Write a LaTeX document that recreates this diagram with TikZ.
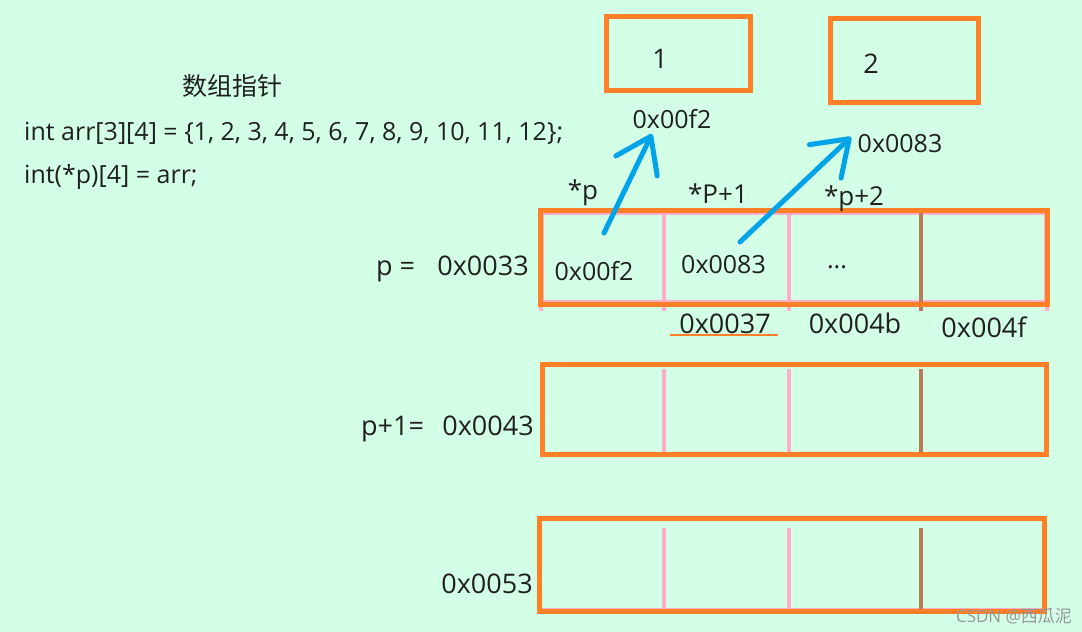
\documentclass[tikz,border=0pt]{standalone}
\usepackage{fontspec}
\setmainfont{Open Sans}
\newfontfamily\cjk{Noto Sans CJK SC}
\usetikzlibrary{arrows.meta}
\definecolor{bg}{RGB}{211,255,231}
\definecolor{org}{RGB}{255,127,39}
\definecolor{pnk}{RGB}{255,174,201}
\definecolor{brn}{RGB}{185,122,87}
\definecolor{blu}{RGB}{0,162,232}
\definecolor{txt}{RGB}{32,32,32}
\definecolor{wm}{RGB}{150,150,150}
\begin{document}
\begin{tikzpicture}[x=1pt,y=-1pt,
  t/.style={inner sep=0pt, anchor=base, text=txt, font=\fontsize{27}{30}\selectfont},
  tc/.style={inner sep=0pt, anchor=base west, text=txt, font=\fontsize{25}{30}\selectfont},
  ts/.style={t, font=\fontsize{25}{30}\selectfont},
  obox/.style={draw=org, line width=5pt, inner sep=0pt},
  pline/.style={draw=pnk, line width=4pt},
  bline/.style={draw=brn, line width=4pt},
  uline/.style={draw=org, line width=1.5pt},
  ptr/.style={draw=blu, line width=5pt, line cap=round,
    -{Straight Barb[length=33pt,width=46pt,round]}}
]
\fill[bg] (0,0) rectangle (1082,632);
\useasboundingbox (0,0) rectangle (1082,632);

% heading and code
\node[inner sep=0pt, text=txt, font=\cjk\fontsize{25}{30}\selectfont] (title) at (232,86) {数组指针};
\node[tc] (code1) at (24,140) {int arr[3][4] = \{1, 2, 3, 4, 5, 6, 7, 8, 9, 10, 11, 12\};};
\node[tc] (code2) at (24,183) {int(*p)[4] = arr;};

% target boxes
\node[obox, minimum width=144pt, minimum height=74pt] (box1) at (678.5,53.5) {};
\node[obox, minimum width=148pt, minimum height=84pt] (box2) at (904.5,60) {};
\node[t] (v1) at (660,68) {1};
\node[t] (v2) at (871,73) {2};
\node[ts] (a1) at (672,128) {0x00f2};
\node[ts] (a2) at (900,152) {0x0083};

% row 1
\draw[pline] (542,213) rectangle (1046,302);
\foreach \x/\s in {541/pline,664/pline,789/pline,921/bline,1047/pline}
  \draw[\s] (\x,213) -- (\x,311);
\node[obox, minimum width=506.5pt, minimum height=94pt] (row1) at (793.75,257) {};
\node[t,font=\fontsize{26}{30}\selectfont] (s0) at (583,199) {*p};
\node[t,font=\fontsize{26}{30}\selectfont] (s1) at (718,203) {*P+1};
\node[t,font=\fontsize{26}{30}\selectfont] (s2) at (854,205) {*p+2};
\node[ts] (c1) at (594,280) {0x00f2};
\node[ts] (c2) at (723.5,273) {0x0083};
\node[ts] (c3) at (837,268) {...};
\node[t] (m2) at (725,333) {0x0037};
\node[t] (m3) at (855,333) {0x004b};
\node[t] (m4) at (984,337) {0x004f};
\coordinate (u1) at (670,335);
\coordinate (u2) at (778,335);
\draw[uline] (u1) -- (u2);

% row 2
\foreach \x/\s in {664/pline,789/pline,921/bline}
  \draw[\s] (\x,369) -- (\x,457);
\node[obox, minimum width=504pt, minimum height=90pt] (row2) at (794.5,409.5) {};

% row 3
\draw[draw=pnk, line width=3pt] (541,609) -- (1044,609);
\foreach \x/\s in {664/pline,789/pline,921/bline}
  \draw[\s] (\x,528) -- (\x,612);
\node[obox, minimum width=505pt, minimum height=93pt] (row3) at (792,565) {};

% left labels
\node[t] (pl) at (395.5,275) {p =};
\node[t] (pa) at (483,275) {0x0033};
\node[t] (ql) at (392.5,435) {p+1=};
\node[t] (qa) at (488,435) {0x0043};
\node[t] (ra) at (487,593) {0x0053};

% pointers
\coordinate (p1s) at (604,233);
\coordinate (p1e) at (652,134);
\coordinate (p2s) at (740,242);
\coordinate (p2e) at (851,137);
\draw[ptr] (p1s) -- (p1e);
\draw[ptr] (p2s) -- (p2e);

% watermark
\node[inner sep=0pt, text=wm, font=\fontsize{17}{19}\selectfont] (wmk) at (1014,616) {CSDN @{\cjk 西瓜泥}};
\end{tikzpicture}
\end{document}
